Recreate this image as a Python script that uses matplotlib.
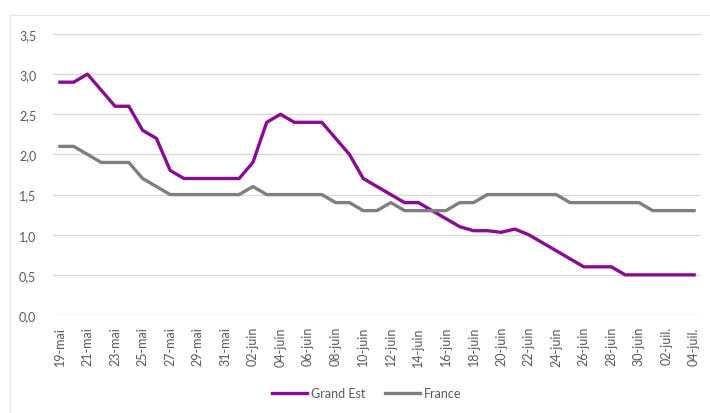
import matplotlib.pyplot as plt
from matplotlib.lines import Line2D

# Daily values, 19 May -> 4 July
grand_est = [2.9, 2.9, 3.0, 2.8, 2.6, 2.6, 2.3, 2.2, 1.8, 1.7,
             1.7, 1.7, 1.7, 1.7, 1.9, 2.4, 2.5, 2.4, 2.4, 2.4,
             2.2, 2.0, 1.7, 1.6, 1.5, 1.4, 1.4, 1.3, 1.2, 1.1,
             1.05, 1.05, 1.03, 1.07, 1.0, 0.9, 0.8, 0.7, 0.6, 0.6,
             0.6, 0.5, 0.5, 0.5, 0.5, 0.5, 0.5]
france = [2.1, 2.1, 2.0, 1.9, 1.9, 1.9, 1.7, 1.6, 1.5, 1.5,
          1.5, 1.5, 1.5, 1.5, 1.6, 1.5, 1.5, 1.5, 1.5, 1.5,
          1.4, 1.4, 1.3, 1.3, 1.4, 1.3, 1.3, 1.3, 1.3, 1.4,
          1.4, 1.5, 1.5, 1.5, 1.5, 1.5, 1.5, 1.4, 1.4, 1.4,
          1.4, 1.4, 1.4, 1.3, 1.3, 1.3, 1.3]

tick_labels = ["19-mai", "21-mai", "23-mai", "25-mai", "27-mai", "29-mai", "31-mai",
               "02-juin", "04-juin", "06-juin", "08-juin", "10-juin", "12-juin",
               "14-juin", "16-juin", "18-juin", "20-juin", "22-juin", "24-juin",
               "26-juin", "28-juin", "30-juin", "02-juil.", "04-juil."]

TEXT = "#595959"
plt.rcParams["font.family"] = ["Lato", "DejaVu Sans"]

fig = plt.figure(figsize=(7.1, 4.14), dpi=100)
# faint chart-area border (only top and left visible in the crop)
fig.lines.append(Line2D([10 / 710, 1], [1 - 16 / 414, 1 - 16 / 414],
                        transform=fig.transFigure, color="#e6e6e6", linewidth=0.8))
fig.lines.append(Line2D([10 / 710, 10 / 710], [0, 1 - 16 / 414],
                        transform=fig.transFigure, color="#e6e6e6", linewidth=0.8))
ax = fig.add_axes([53 / 710, 1 - 316 / 414, 648 / 710, 281 / 414])

x = list(range(len(grand_est)))
ax.plot(x, grand_est, color="#8b0a93", linewidth=2.4, label="Grand Est",
        solid_joinstyle="round")
ax.plot(x, france, color="#7f7f7f", linewidth=2.4, label="France",
        solid_joinstyle="round")

ax.set_ylim(0, 3.5)
ax.set_xlim(-0.5, len(x) - 0.5)
yt = [0, 0.5, 1.0, 1.5, 2.0, 2.5, 3.0, 3.5]
ax.set_yticks(yt)
ax.set_yticklabels([f"{v:.1f}".replace(".", ",") for v in yt], color=TEXT, fontsize=9)
ax.set_xticks(x[::2])
ax.set_xticklabels(tick_labels, rotation=90, color=TEXT, fontsize=9)
ax.tick_params(length=0, pad=8)
ax.tick_params(axis="y", pad=12)
ax.grid(axis="y", color="#d9d9d9", linewidth=0.9)
ax.set_axisbelow(True)
for s in ax.spines.values():
    s.set_visible(False)

fig.legend(loc="center", bbox_to_anchor=(367 / 710, 1 - 394 / 414), ncol=2,
           frameon=False, fontsize=9, labelcolor=TEXT, handlelength=2.8,
           handletextpad=0.3, columnspacing=1.6)

fig.savefig("out.png", dpi=100)
